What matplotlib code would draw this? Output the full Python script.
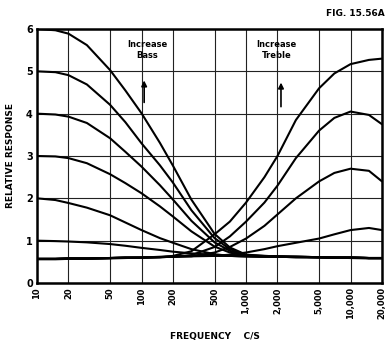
import numpy as np
import matplotlib.pyplot as plt

freq = [10, 15, 20, 30, 50, 70, 100, 150, 200, 300, 500, 700,
        1000, 1500, 2000, 3000, 5000, 7000, 10000, 15000, 20000]

# bass boost curves
bass_6 = [6.0, 5.97, 5.89, 5.62, 5.03, 4.55, 4.01, 3.31, 2.77, 1.97, 1.16, 0.84,
          0.67, 0.64, 0.63, 0.62, 0.61, 0.60, 0.60, 0.59, 0.59]
bass_5 = [5.0, 4.98, 4.91, 4.69, 4.21, 3.80, 3.30, 2.78, 2.37, 1.72, 1.06, 0.80,
          0.66, 0.64, 0.63, 0.62, 0.61, 0.60, 0.60, 0.59, 0.59]
bass_4 = [4.0, 3.98, 3.93, 3.78, 3.42, 3.10, 2.75, 2.31, 1.97, 1.47, 0.96, 0.76,
          0.65, 0.63, 0.62, 0.62, 0.61, 0.60, 0.60, 0.59, 0.59]
bass_3 = [3.0, 2.99, 2.95, 2.83, 2.57, 2.36, 2.12, 1.81, 1.57, 1.22, 0.86, 0.72,
          0.64, 0.63, 0.62, 0.62, 0.61, 0.60, 0.60, 0.59, 0.59]
bass_2 = [2.0, 1.96, 1.89, 1.78, 1.60, 1.43, 1.25, 1.06, 0.95, 0.80, 0.68, 0.64,
          0.63, 0.62, 0.62, 0.61, 0.61, 0.60, 0.60, 0.59, 0.59]
bass_1 = [1.0, 0.99, 0.98, 0.96, 0.92, 0.88, 0.83, 0.78, 0.74, 0.70, 0.66, 0.64,
          0.63, 0.62, 0.62, 0.61, 0.61, 0.60, 0.60, 0.59, 0.59]

# treble boost curves
treble_1 = [0.57, 0.57, 0.58, 0.58, 0.59, 0.60, 0.60, 0.61, 0.64, 0.75, 1.15, 1.45,
            1.90, 2.50, 3.00, 3.85, 4.60, 4.95, 5.17, 5.27, 5.30]
treble_2 = [0.57, 0.57, 0.58, 0.58, 0.59, 0.60, 0.60, 0.61, 0.62, 0.66, 0.85, 1.10,
            1.45, 1.90, 2.30, 2.95, 3.60, 3.90, 4.05, 3.97, 3.75]
treble_3 = [0.57, 0.57, 0.58, 0.58, 0.59, 0.60, 0.60, 0.61, 0.62, 0.63, 0.72, 0.85,
            1.05, 1.35, 1.62, 2.00, 2.40, 2.60, 2.70, 2.65, 2.40]
treble_4 = [0.57, 0.57, 0.58, 0.58, 0.59, 0.60, 0.60, 0.61, 0.62, 0.63, 0.64, 0.67,
            0.72, 0.80, 0.87, 0.95, 1.05, 1.15, 1.25, 1.30, 1.25]

# both controls at minimum
flat = [0.56, 0.56, 0.57, 0.57, 0.58, 0.59, 0.60, 0.62, 0.63, 0.64, 0.64, 0.64,
        0.63, 0.63, 0.62, 0.61, 0.60, 0.60, 0.59, 0.58, 0.58]

x_ticks = [10, 20, 50, 100, 200, 500, 1000, 2000, 5000, 10000, 20000]
x_labels = ["10", "20", "50", "100", "200", "500", "1,000", "2,000",
            "5,000", "10,000", "20,000"]
y_ticks = [0, 1, 2, 3, 4, 5, 6]

plt.rcParams['font.family'] = 'DejaVu Sans'
plt.rcParams['font.weight'] = 'bold'

fig = plt.figure(figsize=(3.89, 3.45), dpi=100)
ax = fig.add_axes([37 / 389, 1 - 283 / 345, 345 / 389, 254 / 345])

curves = [bass_6, bass_5, bass_4, bass_3, bass_2, bass_1,
          treble_1, treble_2, treble_3, treble_4, flat]
for c in curves:
    ax.plot(freq, c, color='black', linewidth=1.5, solid_capstyle='round')

ax.set_xscale('log')
ax.set_xlim(10, 20000)
ax.set_ylim(0, 6)
ax.minorticks_off()
ax.set_xticks(x_ticks)
ax.set_xticklabels(x_labels, rotation=90, fontsize=6, fontweight='bold')
ax.set_yticks(y_ticks)
ax.set_yticklabels([str(v) for v in y_ticks], fontsize=7, fontweight='bold')
ax.tick_params(length=0, pad=3)
ax.grid(True, color='#222222', linewidth=0.8)
for s in ax.spines.values():
    s.set_linewidth(1.8)

ax.set_ylabel('RELATIVE RESPONSE', fontsize=6.5, fontweight='bold', labelpad=8)
fig.text(215 / 389, 1 - 337 / 345, 'FREQUENCY    C/S', ha='center', va='center',
         fontsize=6.5, fontweight='bold')

# annotations
ax.text(113, 5.5, 'Increase\nBass', ha='center', va='center', fontsize=6,
        fontweight='bold', linespacing=1.3)
ax.annotate('', xy=(106, 4.85), xytext=(106, 4.2),
            arrowprops=dict(arrowstyle='-|>', color='black', lw=1.2,
                            mutation_scale=8))
ax.text(1950, 5.5, 'Increase\nTreble', ha='center', va='center', fontsize=6,
        fontweight='bold', linespacing=1.3)
ax.annotate('', xy=(2160, 4.8), xytext=(2160, 4.1),
            arrowprops=dict(arrowstyle='-|>', color='black', lw=1.2,
                            mutation_scale=8))

fig.text(385 / 389, 1 - 13 / 345, 'FIG. 15.56A', ha='right', va='center',
         fontsize=6.5, fontweight='bold')

fig.savefig('out.png', dpi=100)
